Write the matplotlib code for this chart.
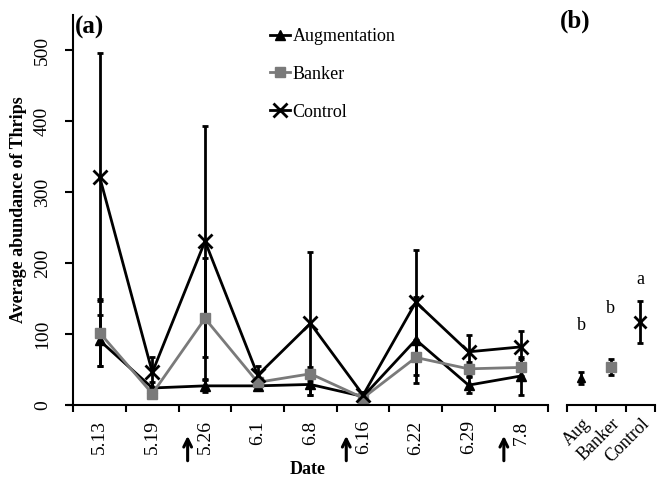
import matplotlib
matplotlib.use("Agg")
import matplotlib.pyplot as plt
import matplotlib.transforms as mtransforms
import numpy as np

plt.rcParams['font.family'] = ['Liberation Serif', 'DejaVu Serif']

# ---- data ----
dates = ['5.13', '5.19', '5.26', '6.1', '6.8', '6.16', '6.22', '6.29', '7.8']
augmentation = [91, 24, 27, 27, 29, 12, 92, 28, 41]
augmentation_err = [36, 8, 8, 5, 15, 3, 61, 11, 27]
banker = [102, 16, 122, 32, 44, 10, 67, 51, 53]
banker_err = [47, 6, 85, 6, 10, 3, 25, 10, 12]
control = [322, 46, 231, 42, 115, 14, 145, 75, 82]
control_err = [175, 22, 163, 13, 101, 5, 74, 24, 23]
release_marks = [1.67, 4.68, 7.67]

groups = ['Aug', 'Banker', 'Control']
overall_mean = [38, 54, 117]
overall_err = [9, 11, 30]
letters = ['b', 'b', 'a']
letter_y = [112, 136, 177]

yticks = [0, 100, 200, 300, 400, 500]

GRAY = '#7a7a7a'
W, H = 660, 479
fig = plt.figure(figsize=(6.6, 4.79), dpi=100)

def fbox(x0, x1, ytop, ybot):
    return [x0 / W, 1 - ybot / H, (x1 - x0) / W, (ybot - ytop) / H]

ax = fig.add_axes(fbox(68, 547.6, 15, 405))
axb = fig.add_axes(fbox(566.7, 655, 15, 405))

x = np.arange(len(dates))
ekw = dict(capsize=2, elinewidth=2, capthick=2, lw=2)
c1 = ax.errorbar(x, augmentation, yerr=augmentation_err, color='black', marker='^',
                 ms=7, **ekw)
c2 = ax.errorbar(x, banker, yerr=banker_err, color=GRAY, ecolor='black', marker='s',
                 ms=7, **ekw)
c3 = ax.errorbar(x, control, yerr=control_err, color='black', marker='x', ms=10,
                 mew=2, **ekw)

ax.set_xlim(-0.6, len(dates) - 0.5)
ax.set_ylim(0, 550)
ax.spines['left'].set_position(('data', -0.5))
for s in ['top', 'right']:
    ax.spines[s].set_visible(False)
ax.spines['left'].set_linewidth(1.5)
ax.spines['bottom'].set_linewidth(1.5)

ax.set_xticks(np.arange(-0.5, len(dates), 1.0))
ax.set_xticklabels([])
ax.set_xticks(x, minor=True)
ax.set_xticklabels(dates, minor=True, rotation=90, fontsize=14)
ax.tick_params(axis='x', which='major', direction='out', length=5, width=1.5)
ax.tick_params(axis='x', which='minor', length=0, pad=11)
ax.set_yticks(yticks)
ax.set_yticklabels([str(v) for v in yticks], rotation=90, va='center', fontsize=14)
ax.tick_params(axis='y', direction='out', length=6, width=1.5, pad=10)

ax.set_ylabel('Average abundance of Thrips', fontsize=13, fontweight='bold', labelpad=5)
ax.set_xlabel('Date', fontsize=13, fontweight='bold', labelpad=5)

trans = mtransforms.blended_transform_factory(ax.transData, ax.transAxes)
for rx in release_marks:
    ax.annotate('', xy=(rx, -0.072), xytext=(rx, -0.15), xycoords=trans,
                textcoords=trans,
                arrowprops=dict(arrowstyle='->', lw=2.2, color='black',
                                mutation_scale=14), annotation_clip=False)

ax.text(0.015, 0.967, '(a)', transform=ax.transAxes, fontsize=18,
        fontweight='bold', va='center', ha='left')

ax.legend(handles=[c1.lines[0], c2.lines[0], c3.lines[0]],
          labels=['Augmentation', 'Banker', 'Control'],
          loc='upper left', bbox_to_anchor=(270 / W, 1 - 28 / H),
          bbox_transform=fig.transFigure, frameon=False, fontsize=13,
          handlelength=1.1, handletextpad=0.15, labelspacing=1.15,
          borderpad=0, borderaxespad=0)

# ---- panel b ----
xb = np.arange(len(groups))
styles = [dict(color='black', marker='^', ms=6),
          dict(color=GRAY, marker='s', ms=7),
          dict(color='black', marker='x', ms=9, mew=2)]
for i in range(len(groups)):
    axb.errorbar([xb[i]], [overall_mean[i]], yerr=[overall_err[i]], ecolor='black',
                 linestyle='none', capsize=2, elinewidth=2, capthick=2,
                 **styles[i])
    axb.text(xb[i], letter_y[i], letters[i], ha='center', va='center', fontsize=13)

axb.set_xlim(-0.5, len(groups) - 0.5)
axb.set_ylim(0, 550)
for s in ['top', 'right', 'left']:
    axb.spines[s].set_visible(False)
axb.spines['bottom'].set_linewidth(1.5)
axb.set_yticks([])
axb.set_xticks(np.arange(-0.5, len(groups), 1.0))
axb.set_xticklabels([])
axb.set_xticks(xb, minor=True)
axb.set_xticklabels(groups, minor=True, rotation=45, ha='right',
                    rotation_mode='anchor', fontsize=13)
axb.tick_params(axis='x', which='major', direction='out', length=5, width=1.5)
axb.tick_params(axis='x', which='minor', length=0, pad=7)
axb.text(0.1, 0.985, '(b)', transform=axb.transAxes, fontsize=18,
         fontweight='bold', va='center', ha='center')

fig.savefig('out.png', dpi=100)
